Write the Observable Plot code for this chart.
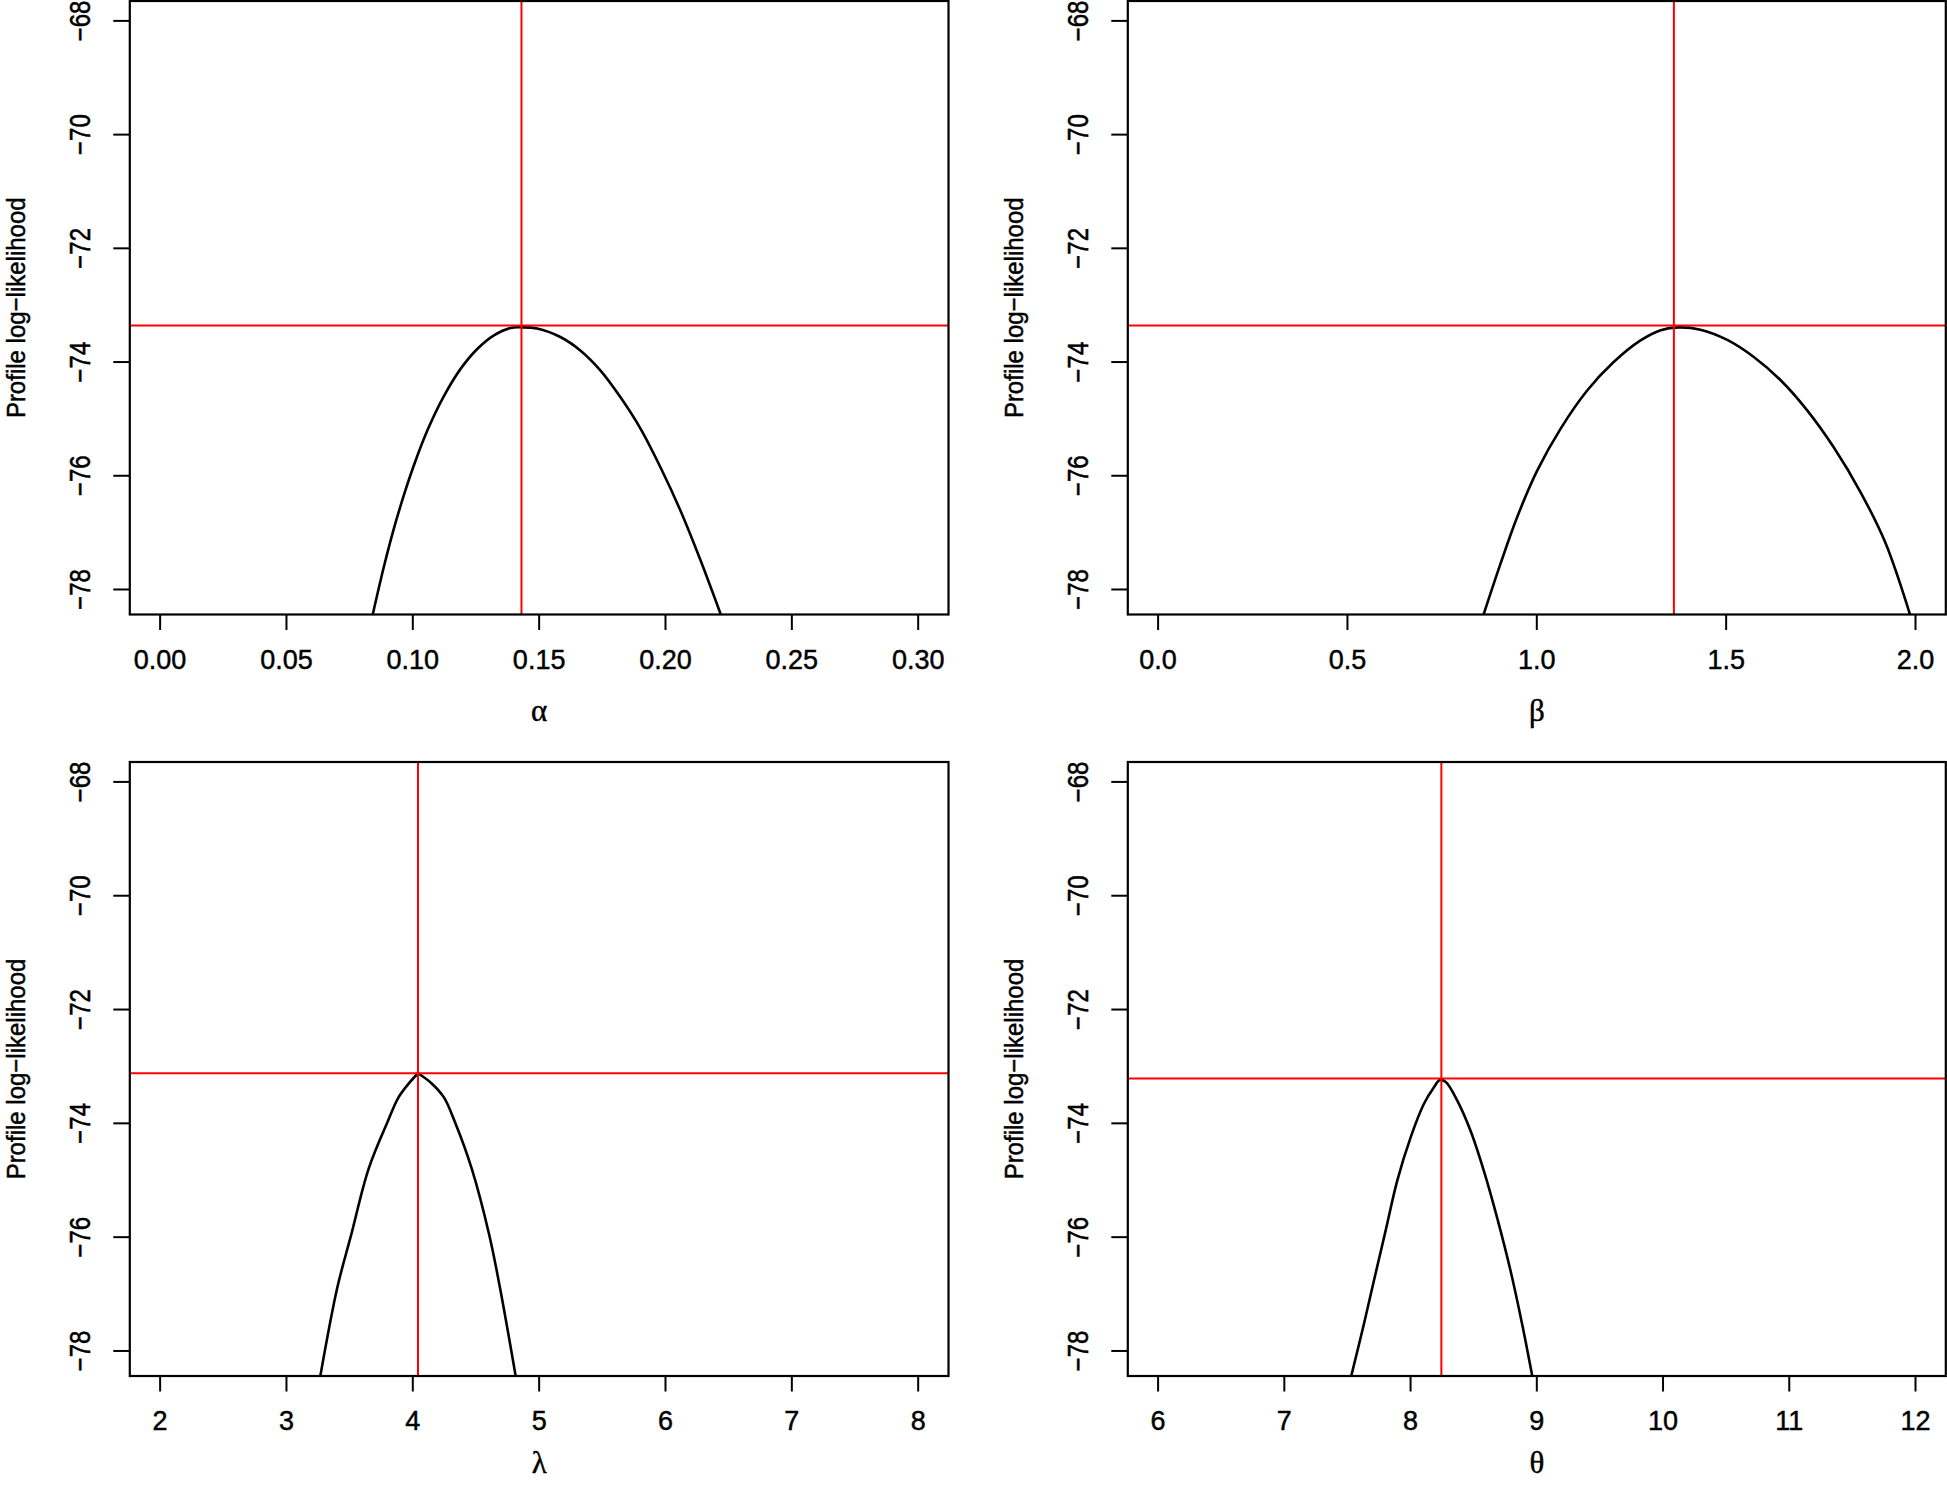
<!DOCTYPE html>
<html><head><meta charset="utf-8">
<script src="https://cdn.jsdelivr.net/npm/d3@7"></script>
<script src="https://cdn.jsdelivr.net/npm/@observablehq/plot@0.6"></script>
<style>
html,body{margin:0;padding:0;background:#fff;}
#fig{position:relative;width:1947px;height:1487px;overflow:hidden;background:#fff;}
.panel{position:absolute;}
.panel svg{overflow:visible;}
</style></head><body><div id="fig"></div>
<script>
// ---- shared y axis ----
const yTicks = [-68, -70, -72, -74, -76, -78];
const yTickLabels = ["−68", "−70", "−72", "−74", "−76", "−78"];
const yTitle = "Profile log−likelihood";

// ---- alpha ----
const alphaX  = [0.0842, 0.0885, 0.0925, 0.0964, 0.1004, 0.1057, 0.1123, 0.1189, 0.1255, 0.1321, 0.1387, 0.1431, 0.1492, 0.1584, 0.1664, 0.1743, 0.1822, 0.1901, 0.1980, 0.2059, 0.2139, 0.2218];
const alphaLL = [-78.43, -77.61, -76.93, -76.35, -75.82, -75.21, -74.60, -74.12, -73.77, -73.53, -73.40, -73.39, -73.41, -73.56, -73.80, -74.15, -74.62, -75.17, -75.85, -76.61, -77.49, -78.43];
const alphaHat = 0.143, alphaMaxLL = -73.357;
const alphaTicks = [0, 0.05, 0.1, 0.15, 0.2, 0.25, 0.3];
const alphaTickLabels = ["0.00", "0.05", "0.10", "0.15", "0.20", "0.25", "0.30"];

// ---- beta ----
const betaX  = [0.860, 0.904, 0.948, 1.001, 1.063, 1.133, 1.203, 1.274, 1.327, 1.375, 1.432, 1.503, 1.573, 1.644, 1.714, 1.784, 1.855, 1.920, 1.985];
const betaLL = [-78.43, -77.55, -76.73, -75.91, -75.17, -74.50, -74.00, -73.62, -73.44, -73.39, -73.43, -73.61, -73.91, -74.32, -74.85, -75.50, -76.29, -77.17, -78.43];
const betaHat = 1.362, betaMaxLL = -73.357;
const betaTicks = [0, 0.5, 1, 1.5, 2];
const betaTickLabels = ["0.0", "0.5", "1.0", "1.5", "2.0"];

// ---- lambda ----
const lambdaX  = [3.268, 3.402, 3.511, 3.650, 3.799, 3.888, 3.972, 4.041, 4.145, 4.245, 4.334, 4.467, 4.606, 4.690, 4.814];
const lambdaLL = [-78.44, -76.89, -75.97, -74.80, -73.98, -73.54, -73.29, -73.12, -73.29, -73.54, -73.98, -74.80, -75.97, -76.89, -78.44];
const lambdaHat = 4.041, lambdaMaxLL = -73.12;
const lambdaTicks = [2, 3, 4, 5, 6, 7, 8];
const lambdaTickLabels = ["2", "3", "4", "5", "6", "7", "8"];

// ---- theta ----
const thetaX  = [7.530, 7.630, 7.709, 7.802, 7.894, 8.000, 8.105, 8.184, 8.232, 8.277, 8.370, 8.475, 8.580, 8.686, 8.792, 8.884, 8.964];
const thetaLL = [-78.44, -77.53, -76.77, -75.89, -75.01, -74.25, -73.66, -73.37, -73.24, -73.27, -73.60, -74.13, -74.83, -75.66, -76.59, -77.53, -78.44];
const thetaHat = 8.244, thetaMaxLL = -73.21;
const thetaTicks = [6, 7, 8, 9, 10, 11, 12];
const thetaTickLabels = ["6", "7", "8", "9", "10", "11", "12"];

// ---- layout (not data) ----
const yDomain = [-78.44, -67.65];
const sansFont = "'Liberation Sans', Arial, Helvetica, sans-serif";
const greekFont = "'Liberation Serif', 'DejaVu Serif', serif";

const panels = [
  {name: "α", xs: alphaX, ys: alphaLL, hat: alphaHat, maxLL: alphaMaxLL, ticks: alphaTicks, labels: alphaTickLabels,
   domain: [-0.012, 0.312], splitAtPeak: false, left: 0, top: 0, width: 973, height: 743, mt: 0.5, mb: 129, ml: 129.3, mr: 25, titleDy: 106},
  {name: "β", xs: betaX, ys: betaLL, hat: betaHat, maxLL: betaMaxLL, ticks: betaTicks, labels: betaTickLabels,
   domain: [-0.08, 2.08], splitAtPeak: false, left: 973, top: 0, width: 974, height: 743, mt: 0.5, mb: 129, ml: 154.3, mr: 1.7, titleDy: 106},
  {name: "λ", xs: lambdaX, ys: lambdaLL, hat: lambdaHat, maxLL: lambdaMaxLL, ticks: lambdaTicks, labels: lambdaTickLabels,
   domain: [1.76, 8.24], splitAtPeak: true, left: 0, top: 743, width: 973, height: 744, mt: 18.5, mb: 111.5, ml: 129.3, mr: 25, titleDy: 97},
  {name: "θ", xs: thetaX, ys: thetaLL, hat: thetaHat, maxLL: thetaMaxLL, ticks: thetaTicks, labels: thetaTickLabels,
   domain: [5.76, 12.24], splitAtPeak: false, left: 973, top: 743, width: 974, height: 744, mt: 18.5, mb: 111.5, ml: 154.3, mr: 1.7, titleDy: 97}
];

const fig = document.getElementById("fig");
for (const p of panels) {
  // build line table; optionally split into two branches sharing the peak point
  let data;
  if (p.splitAtPeak) {
    const k = p.ys.indexOf(Math.max(...p.ys));
    data = [];
    p.xs.forEach((x, i) => {
      if (i <= k) data.push({x, y: p.ys[i], side: "left"});
      if (i >= k) data.push({x, y: p.ys[i], side: "right"});
    });
  } else {
    data = p.xs.map((x, i) => ({x, y: p.ys[i], side: "all"}));
  }
  const labelMap = new Map(p.ticks.map((t, i) => [t, p.labels[i]]));
  const chart = Plot.plot({
    width: p.width, height: p.height,
    marginTop: p.mt, marginBottom: p.mb, marginLeft: p.ml, marginRight: p.mr,
    x: {domain: p.domain},
    y: {domain: yDomain},
    style: {fontFamily: sansFont, background: "white", color: "black", overflow: "visible"},
    marks: [
      Plot.line(data, {x: "x", y: "y", z: "side", stroke: "black", strokeWidth: 2.6, curve: "catmull-rom", clip: true}),
      Plot.ruleX([p.hat], {stroke: "#ff0000", strokeWidth: 2}),
      Plot.ruleY([p.maxLL], {stroke: "#ff0000", strokeWidth: 2}),
      Plot.frame({stroke: "black", strokeWidth: 2.2}),
      Plot.axisX(p.ticks, {tickSize: 16, tickPadding: 19, fontSize: 27, strokeWidth: 2,
        tickFormat: d => labelMap.get(d), label: null}),
      Plot.axisY(yTicks, {tickSize: 16, strokeWidth: 2, tickFormat: () => "", label: null}),
      Plot.text(yTicks, {frameAnchor: "left", y: d => d, text: (d, i) => yTickLabels[i], rotate: -90,
        textAnchor: "middle", lineAnchor: "bottom", dx: -40, fontSize: 24, fill: "black"}),
      Plot.text([yTitle], {frameAnchor: "left", text: d => d, rotate: -90, textAnchor: "middle",
        lineAnchor: "bottom", dx: -105, fontSize: 24, fill: "black"}),
      Plot.text([p.name], {frameAnchor: "bottom", text: d => d, dy: p.titleDy, fontSize: 31,
        fontFamily: greekFont, fill: "black"})
    ]
  });
  // make rotated labels taller across (matching the reference glyph proportions), and slightly heavier text
  chart.querySelectorAll("text").forEach(t => {
    const tr = t.getAttribute("transform");
    if (tr && tr.includes("rotate(-90")) {
      const k = t.textContent.length > 5 ? 1.1 : 1.2;
      t.setAttribute("transform", tr + ` scale(1,${k})`);
    }
    t.setAttribute("stroke", "black");
    t.setAttribute("stroke-width", "0.45");
  });
  const div = document.createElement("div");
  div.className = "panel";
  div.style.left = p.left + "px";
  div.style.top = p.top + "px";
  div.appendChild(chart);
  fig.appendChild(div);
}
</script>
</body></html>
